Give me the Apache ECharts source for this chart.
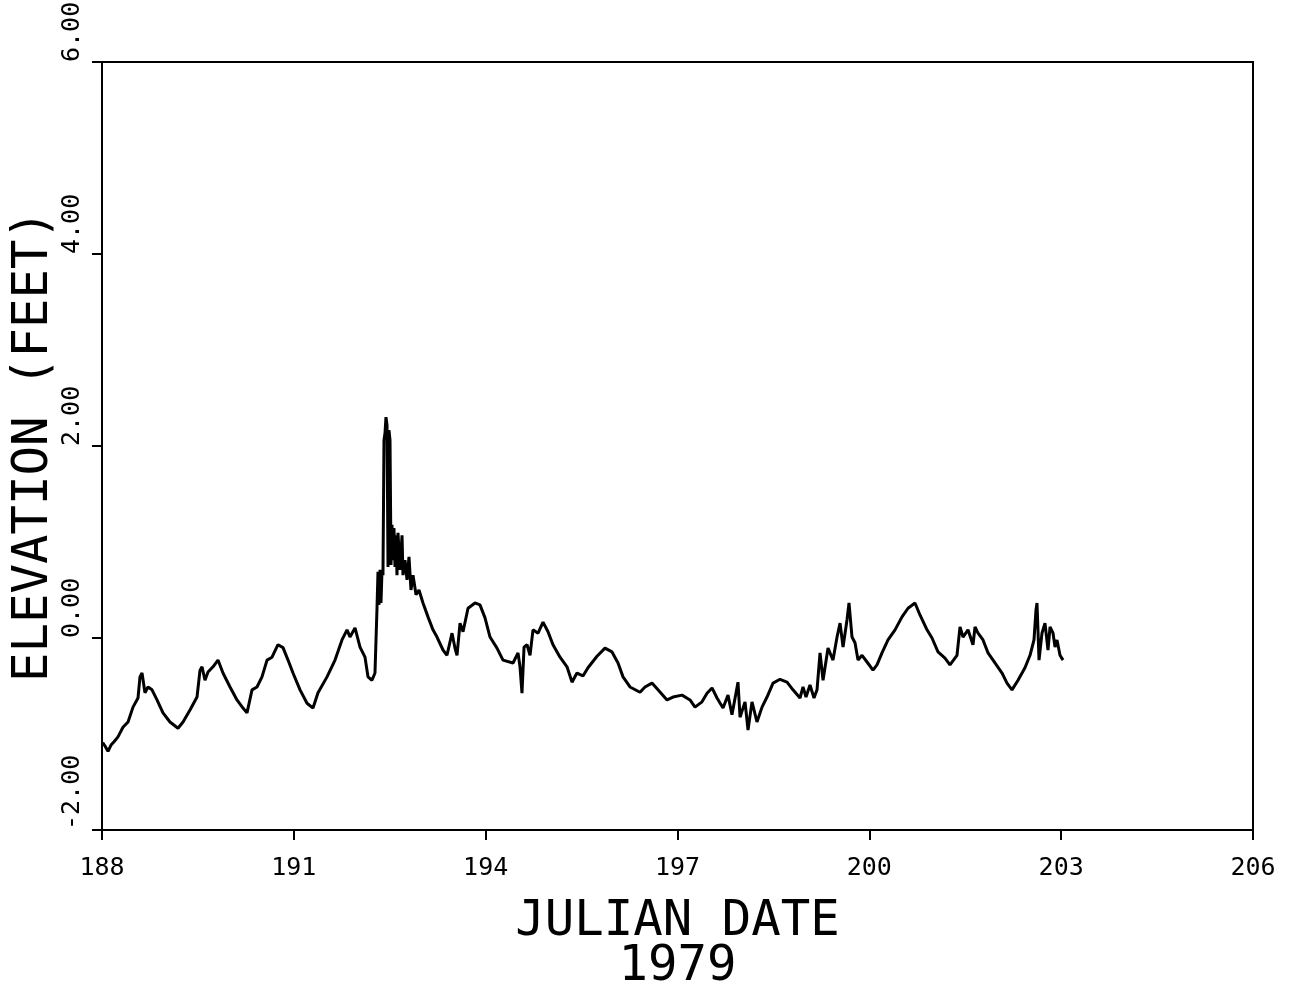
<!DOCTYPE html>
<html>
<head>
<meta charset="utf-8">
<script src="https://cdn.jsdelivr.net/npm/echarts@6/dist/echarts.min.js"></script>
<style>
html,body{margin:0;padding:0;background:#fff;}
#chart{width:1293px;height:981px;}
</style>
</head>
<body>
<div id="chart"></div>
<script>
// Julian day (1979) and water-surface elevation (feet)
const days = [
188.011,188.047,188.094,188.141,188.188,188.250,188.328,188.407,188.485,188.563,
188.594,188.626,188.672,188.719,188.782,188.860,188.954,189.063,189.189,189.267,
189.376,189.486,189.533,189.564,189.611,189.658,189.736,189.814,189.892,190.002,
190.111,190.205,190.268,190.346,190.424,190.502,190.581,190.659,190.752,190.831,
190.909,190.987,191.097,191.206,191.300,191.378,191.519,191.644,191.753,191.832,
191.878,191.957,192.035,192.113,192.160,192.222,192.269,192.301,192.316,192.332,
192.348,192.363,192.379,192.394,192.410,192.426,192.441,192.457,192.473,192.488,
192.504,192.520,192.535,192.551,192.566,192.582,192.598,192.613,192.629,192.660,
192.692,192.707,192.739,192.770,192.801,192.832,192.864,192.911,192.957,193.020,
193.098,193.176,193.239,193.333,193.395,193.474,193.520,193.552,193.599,193.646,
193.724,193.833,193.911,193.990,194.068,194.177,194.271,194.428,194.506,194.537,
194.568,194.600,194.647,194.694,194.740,194.819,194.897,194.975,195.053,195.163,
195.272,195.350,195.428,195.522,195.600,195.741,195.866,195.976,196.070,196.148,
196.257,196.414,196.492,196.601,196.695,196.836,196.930,197.071,197.196,197.274,
197.383,197.462,197.540,197.618,197.712,197.790,197.852,197.946,197.978,198.056,
198.103,198.165,198.243,198.322,198.400,198.494,198.603,198.713,198.806,198.916,
198.963,199.010,199.072,199.135,199.182,199.229,199.276,199.354,199.432,199.495,
199.542,199.589,199.651,199.682,199.729,199.776,199.823,199.886,199.964,200.057,
200.120,200.198,200.292,200.402,200.511,200.605,200.714,200.792,200.902,200.980,
201.074,201.183,201.261,201.371,201.418,201.465,201.543,201.621,201.653,201.700,
201.778,201.856,201.965,202.075,202.153,202.231,202.325,202.434,202.513,202.575,
202.606,202.622,202.654,202.700,202.747,202.794,202.826,202.873,202.904,202.935,
202.982,203.029
];
const elevation = [
-1.09,-1.125,-1.18,-1.115,-1.08,-1.03,-0.93,-0.875,-0.72,-0.625,
-0.405,-0.365,-0.57,-0.51,-0.54,-0.645,-0.78,-0.875,-0.94,-0.875,
-0.75,-0.615,-0.335,-0.30,-0.44,-0.355,-0.30,-0.23,-0.365,-0.51,
-0.645,-0.73,-0.78,-0.54,-0.51,-0.405,-0.23,-0.20,-0.07,-0.10,
-0.23,-0.365,-0.54,-0.68,-0.73,-0.57,-0.405,-0.23,-0.02,0.085,
0.01,0.105,-0.095,-0.20,-0.405,-0.44,-0.365,0.32,0.69,0.345,
0.71,0.365,0.71,0.655,2.06,2.135,2.30,2.22,0.74,2.165,
2.06,0.76,1.18,0.81,1.145,0.74,1.07,0.655,1.095,0.71,
1.07,0.655,0.81,0.605,0.845,0.50,0.655,0.45,0.50,0.365,
0.22,0.085,0.01,-0.125,-0.18,0.05,-0.105,-0.18,0.155,0.065,
0.31,0.365,0.345,0.21,0.01,-0.105,-0.23,-0.26,-0.155,-0.30,
-0.575,-0.095,-0.07,-0.18,0.085,0.05,0.165,0.065,-0.07,-0.20,
-0.30,-0.46,-0.365,-0.395,-0.31,-0.19,-0.105,-0.145,-0.26,-0.405,
-0.51,-0.565,-0.51,-0.47,-0.54,-0.645,-0.615,-0.595,-0.645,-0.72,
-0.665,-0.575,-0.52,-0.625,-0.73,-0.595,-0.80,-0.46,-0.825,-0.665,
-0.96,-0.665,-0.875,-0.72,-0.615,-0.47,-0.43,-0.46,-0.54,-0.625,
-0.51,-0.615,-0.49,-0.625,-0.54,-0.155,-0.44,-0.105,-0.23,0.01,
0.155,-0.095,0.19,0.365,0.01,-0.05,-0.23,-0.18,-0.25,-0.335,
-0.28,-0.155,-0.02,0.085,0.22,0.31,0.365,0.24,0.085,0.00,
-0.145,-0.21,-0.28,-0.18,0.115,0.01,0.085,-0.07,0.115,0.05,
-0.02,-0.155,-0.26,-0.365,-0.47,-0.54,-0.44,-0.31,-0.18,-0.02,
0.29,0.365,-0.23,0.05,0.155,-0.125,0.115,0.05,-0.095,-0.02,
-0.18,-0.23
];
const xTicks = { min: 188, max: 206, interval: 3 };
const yTicks = { min: -2, max: 6, interval: 2 };

const font = '"DejaVu Sans Mono", "Liberation Mono", monospace';
const series = days.map((d, i) => [d, elevation[i]]);

const chart = echarts.init(document.getElementById('chart'), null, { renderer: 'canvas' });
chart.setOption({
  animation: false,
  backgroundColor: '#fff',
  grid: { left: 102, right: 40, top: 62, bottom: 151, outerBoundsMode: 'none', containLabel: false,
          show: true, borderColor: '#000', borderWidth: 2, backgroundColor: 'transparent' },
  xAxis: {
    type: 'value', min: xTicks.min, max: xTicks.max, interval: xTicks.interval,
    name: 'JULIAN DATE\n1979', nameLocation: 'middle', nameGap: 70, nameMoveOverlap: false,
    nameTextStyle: { fontFamily: font, fontSize: 49, color: '#000', lineHeight: 45, verticalAlign: 'top' },
    axisLine: { show: true, onZero: false, lineStyle: { color: '#000', width: 2 } },
    axisTick: { show: true, inside: false, length: 10, lineStyle: { color: '#000', width: 2 } },
    axisLabel: { fontFamily: font, fontSize: 25, color: '#000', margin: 26 },
    splitLine: { show: false }
  },
  yAxis: {
    type: 'value', min: yTicks.min, max: yTicks.max, interval: yTicks.interval,
    name: 'ELEVATION (FEET)', nameLocation: 'middle', nameRotate: 90, nameGap: 68, nameMoveOverlap: false,
    nameTextStyle: { fontFamily: font, fontSize: 49, color: '#000', verticalAlign: 'middle' },
    axisLine: { show: true, onZero: false, lineStyle: { color: '#000', width: 2 } },
    axisTick: { show: true, inside: false, length: 10, lineStyle: { color: '#000', width: 2 } },
    axisLabel: { fontFamily: font, fontSize: 25, color: '#000', rotate: 90, align: 'left', verticalAlign: 'middle', margin: 30,
      formatter: v => v.toFixed(2) },
    splitLine: { show: false }
  },
  series: [{
    type: 'line', data: series, showSymbol: false, smooth: false,
    lineStyle: { color: '#000', width: 3 }
  }]
});
</script>
</body>
</html>
